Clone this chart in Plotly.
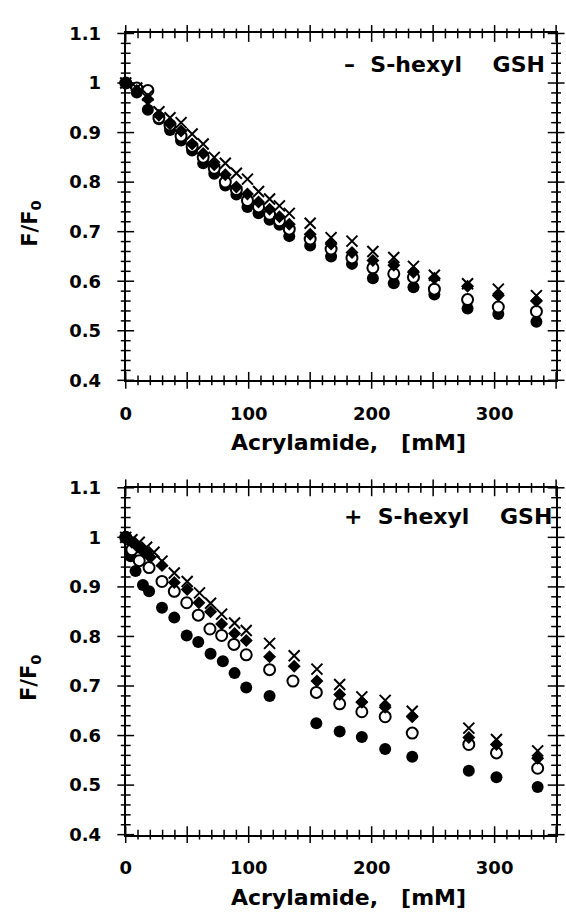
import plotly.graph_objects as go

# ---------------- data ----------------
# top panel: - S-hexyl GSH
top_x = [0, 9, 18, 27, 36, 45, 54, 63, 72, 81, 90, 99, 108, 117, 125, 133,
         150, 167, 184, 201, 218, 234, 251, 278, 303, 334]
top_filled = [1.0, 0.981, 0.946, 0.927, 0.905, 0.884, 0.864, 0.838, 0.817, 0.793,
              0.775, 0.750, 0.737, 0.724, 0.714, 0.691, 0.672, 0.650, 0.635, 0.606,
              0.596, 0.588, 0.573, 0.545, 0.534, 0.518]
top_open = [1.0, 0.990, 0.985, 0.930, 0.915, 0.893, 0.872, 0.850, 0.828, 0.800,
            0.785, 0.763, 0.750, 0.735, 0.722, 0.705, 0.685, 0.665, 0.647, 0.627,
            0.615, 0.608, 0.584, 0.563, 0.548, 0.539]
top_diamond = [1.0, 0.985, 0.967, 0.935, 0.918, 0.903, 0.877, 0.858, 0.835, 0.815,
               0.790, 0.776, 0.760, 0.745, 0.730, 0.715, 0.695, 0.675, 0.658, 0.642,
               0.632, 0.618, 0.606, 0.590, 0.571, 0.560]
top_cross = [1.0, 0.990, 0.975, 0.942, 0.930, 0.920, 0.897, 0.877, 0.850, 0.838,
             0.818, 0.806, 0.781, 0.766, 0.752, 0.737, 0.717, 0.688, 0.681, 0.660,
             0.648, 0.630, 0.612, 0.595, 0.584, 0.571]

# bottom panel: + S-hexyl GSH
bot_filled_x = [0, 4, 8, 14, 19, 29.5, 39.5, 49.6, 59, 69, 79, 88.5, 98, 117, 155,
                174, 192, 211, 233, 279, 301.5, 335]
bot_filled = [1.0, 0.962, 0.932, 0.904, 0.891, 0.858, 0.838, 0.802, 0.789, 0.765,
              0.750, 0.726, 0.697, 0.680, 0.625, 0.608, 0.597, 0.573, 0.557, 0.529,
              0.516, 0.496]
bot_open_x = [0, 5, 11, 19, 29.5, 39.5, 49.6, 59, 68.5, 78, 88, 98, 117, 136, 155,
              174, 192, 211, 233, 279, 301.5, 335]
bot_open = [1.0, 0.975, 0.953, 0.939, 0.911, 0.891, 0.868, 0.843, 0.815, 0.802,
            0.784, 0.763, 0.733, 0.710, 0.687, 0.664, 0.648, 0.638, 0.605, 0.582,
            0.565, 0.534]
bot_diamond_x = [0, 5, 10, 15, 20, 29.5, 39.5, 50, 59.5, 69, 78, 88.5, 98, 117, 137,
                 155.5, 174, 192, 211, 233, 279, 301.5, 335]
bot_diamond = [1.0, 0.990, 0.980, 0.970, 0.960, 0.943, 0.909, 0.895, 0.868, 0.850,
               0.825, 0.806, 0.792, 0.759, 0.740, 0.710, 0.683, 0.667, 0.657, 0.638,
               0.596, 0.582, 0.554]
bot_cross_x = [0, 5, 11, 17, 23, 29.5, 39.5, 50, 60, 69, 78, 88.5, 98, 117, 137,
               155.5, 174, 192, 211, 233, 279, 301.5, 335]
bot_cross = [1.0, 0.995, 0.990, 0.980, 0.970, 0.952, 0.928, 0.911, 0.888, 0.867,
             0.845, 0.827, 0.812, 0.786, 0.761, 0.734, 0.703, 0.678, 0.671, 0.649,
             0.615, 0.592, 0.569]

X_RANGE = [0, 350]
Y_RANGE = [0.4, 1.1]
x_label_vals = [0, 100, 200, 300]
x_label_text = ["<b>0</b>", "<b>100</b>", "<b>200</b>", "<b>300</b>"]
y_label_vals = [0.4, 0.5, 0.6, 0.7, 0.8, 0.9, 1.0, 1.1]
y_label_text = ["<b>0.4</b>", "<b>0.5</b>", "<b>0.6</b>", "<b>0.7</b>",
                "<b>0.8</b>", "<b>0.9</b>", "<b>1</b>", "<b>1.1</b>"]
x_major_vals = [0, 50, 100, 150, 200, 250, 300, 350]
x_minor_vals = [v for v in range(0, 351, 10) if v % 50]
y_minor_vals = [round(0.4 + 0.02 * k, 2) for k in range(36) if k % 5]
panel_labels = ["<b>\u2013  S-hexyl    GSH</b>", "<b>+  S-hexyl    GSH</b>"]
x_title = "<b>Acrylamide,   [mM]</b>"
y_title = "<b>F/F<sub>0</sub></b>"

# ---------------- figure ----------------
W, H = 566, 915
FONT = "DejaVu Sans"

fig = go.Figure()

marker_styles = {
    "filled": dict(symbol="circle", size=12, color="black", line=dict(width=0)),
    "open": dict(symbol="circle", size=11, color="white", line=dict(color="black", width=2)),
    "diamond": dict(symbol="diamond", size=10, color="black", line=dict(width=0)),
    "cross": dict(symbol="x-thin", size=11, color="black", line=dict(color="black", width=2)),
}

panels = [
    ("x", "y", [(top_x, top_filled, "filled"), (top_x, top_open, "open"),
                (top_x, top_diamond, "diamond"), (top_x, top_cross, "cross")]),
    ("x2", "y2", [(bot_filled_x, bot_filled, "filled"), (bot_open_x, bot_open, "open"),
                  (bot_diamond_x, bot_diamond, "diamond"), (bot_cross_x, bot_cross, "cross")]),
]


def tick_marks(xa, ya, vals, size, along_x):
    # tick marks on all four frame sides, drawn as short line markers that cross the frame
    if along_x:
        xs = list(vals) + list(vals)
        ys = [Y_RANGE[0]] * len(vals) + [Y_RANGE[1]] * len(vals)
        sym = "line-ns-open"
    else:
        xs = [X_RANGE[0]] * len(vals) + [X_RANGE[1]] * len(vals)
        ys = list(vals) + list(vals)
        sym = "line-ew-open"
    return go.Scatter(x=xs, y=ys, mode="markers", xaxis=xa, yaxis=ya, cliponaxis=False,
                      marker=dict(symbol=sym, size=size, color="black",
                                  line=dict(color="black", width=1.5)),
                      showlegend=False, hoverinfo="skip")


for xa, ya, series in panels:
    fig.add_trace(tick_marks(xa, ya, x_major_vals, 12, True))
    fig.add_trace(tick_marks(xa, ya, x_minor_vals, 7, True))
    fig.add_trace(tick_marks(xa, ya, y_label_vals, 12, False))
    fig.add_trace(tick_marks(xa, ya, y_minor_vals, 7, False))
    for xs, ys, kind in series:
        fig.add_trace(go.Scatter(x=xs, y=ys, mode="markers", xaxis=xa, yaxis=ya,
                                 marker=marker_styles[kind], showlegend=False,
                                 hoverinfo="skip", cliponaxis=False))

xdom = [121 / W, 556 / W]
ydoms = [[1 - 378 / H, 1 - 23 / H], [1 - 843 / H, 1 - 488 / H]]

tickfont = dict(family=FONT, size=18, color="black")


def x_main(anchor):
    # labelled axis; its own ticks are transparent and only push the labels out
    return dict(domain=xdom, anchor=anchor, range=X_RANGE, showgrid=False, zeroline=False,
                showline=True, linecolor="black", linewidth=2, mirror=True,
                ticks="outside", ticklen=16, tickwidth=1, tickcolor="rgba(0,0,0,0)",
                tickmode="array", tickvals=x_label_vals, ticktext=x_label_text,
                tickfont=tickfont)


def y_main(anchor, dom):
    return dict(domain=dom, anchor=anchor, range=Y_RANGE, showgrid=False, zeroline=False,
                showline=True, linecolor="black", linewidth=2, mirror=True,
                ticks="outside", ticklen=19, tickwidth=1, tickcolor="rgba(0,0,0,0)",
                tickmode="array", tickvals=y_label_vals, ticktext=y_label_text,
                tickfont=tickfont)


fig.update_layout(
    width=W, height=H, margin=dict(l=0, r=0, t=0, b=0),
    paper_bgcolor="white", plot_bgcolor="white", showlegend=False,
    xaxis=x_main("y"), yaxis=y_main("x", ydoms[0]),
    xaxis2=x_main("y2"), yaxis2=y_main("x2", ydoms[1]),
)

annotations = []
offsets = [0, 465]
for i, off in enumerate(offsets):
    annotations.append(dict(x=25 / W, y=1 - (217 + off) / H, xref="paper", yref="paper",
                            text=y_title, textangle=-90, showarrow=False,
                            font=dict(family=FONT, size=21, color="black"),
                            xanchor="center", yanchor="middle"))
    annotations.append(dict(x=346 / W, y=1 - (442 + off) / H, xref="paper", yref="paper",
                            text=x_title, showarrow=False,
                            font=dict(family=FONT, size=22, color="black"),
                            xanchor="center", yanchor="middle"))
    annotations.append(dict(x=340 / W, y=1 - (55 + off - (3 if i else 0)) / H, xref="paper",
                            yref="paper", text=panel_labels[i], showarrow=False,
                            font=dict(family=FONT, size=22, color="black"),
                            xanchor="left", yanchor="middle"))
fig.update_layout(annotations=annotations)

fig.write_html("out.html")
